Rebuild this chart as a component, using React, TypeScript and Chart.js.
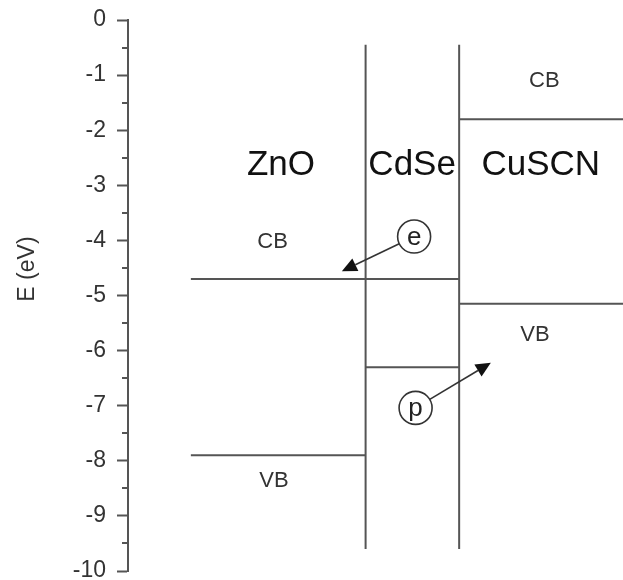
import React, { useEffect, useRef } from 'react';
import { Chart, registerables } from 'chart.js';

Chart.register(...registerables);

const FONT = '"Liberation Sans", Arial, Helvetica, sans-serif';

// Y axis
const yTickValues = [0, -1, -2, -3, -4, -5, -6, -7, -8, -9, -10];
const yMinorTicks = [-0.5, -1.5, -2.5, -3.5, -4.5, -5.5, -6.5, -7.5, -8.5, -9.5];
const axisTitle = 'E (eV)';
const axisTitleY = -4.52;

// Band edges (energy in eV, horizontal extent in arbitrary x-units 0..10)
const bandNames = ['ZnO CB', 'CdSe CB', 'ZnO VB', 'CdSe VB', 'CuSCN CB', 'CuSCN VB'];
const bandEnergy = [-4.7, -4.7, -7.9, -6.3, -1.8, -5.15];
const bandStart = [1.27, 4.8, 1.27, 4.8, 6.69, 6.69];
const bandEnd = [4.8, 6.69, 4.8, 6.69, 10, 10];

// Interfaces (vertical lines)
const interfaceX = [4.8, 6.69];
const interfaceTop = -0.45;
const interfaceBottom = -9.6;

// Material labels
const materialLabels = ['ZnO', 'CdSe', 'CuSCN'];
const materialLabelX = [3.09, 5.74, 8.34];
const materialLabelY = [-2.64, -2.64, -2.64];

// Band labels
const bandLabels = ['CB', 'VB', 'CB', 'VB'];
const bandLabelX = [2.92, 2.95, 8.41, 8.22];
const bandLabelY = [-4.03, -8.36, -1.1, -5.72];

// Charge carriers (circled) and their arrows
const carrierLabels = ['e', 'p'];
const carrierX = [5.78, 5.81];
const carrierY = [-3.93, -7.04];
const arrowTipX = [4.32, 7.33];
const arrowTipY = [-4.56, -6.22];

const LINE = '#555555';

const diagramPlugin = {
  id: 'diagram',
  afterDraw(chart: any) {
    const { ctx, chartArea } = chart;
    const xs = chart.scales.x;
    const ys = chart.scales.y;
    const px = (v: number) => xs.getPixelForValue(v);
    const py = (v: number) => ys.getPixelForValue(v);
    ctx.save();

    // minor ticks
    ctx.strokeStyle = LINE;
    ctx.lineWidth = 2;
    const axisX = chartArea.left;
    yMinorTicks.forEach((v) => {
      const y = Math.round(py(v));
      ctx.beginPath();
      ctx.moveTo(axisX - 6, y);
      ctx.lineTo(axisX, y);
      ctx.stroke();
    });

    // axis title
    ctx.save();
    ctx.translate(ys.left + 28, py(axisTitleY));
    ctx.rotate(-Math.PI / 2);
    ctx.font = `23px ${FONT}`;
    ctx.fillStyle = '#333';
    ctx.textAlign = 'center';
    ctx.textBaseline = 'middle';
    ctx.fillText(axisTitle, 0, 0);
    ctx.restore();

    // material labels
    ctx.font = `35px ${FONT}`;
    ctx.fillStyle = '#111';
    ctx.textAlign = 'center';
    ctx.textBaseline = 'middle';
    materialLabels.forEach((t, i) => {
      ctx.fillText(t, px(materialLabelX[i]), py(materialLabelY[i]));
    });

    // band labels
    ctx.font = `22px ${FONT}`;
    ctx.fillStyle = '#333';
    bandLabels.forEach((t, i) => {
      ctx.fillText(t, px(bandLabelX[i]), py(bandLabelY[i]));
    });

    // carriers + arrows
    const r = 16.5;
    carrierLabels.forEach((t, i) => {
      const cx = px(carrierX[i]);
      const cy = py(carrierY[i]);
      const tx = px(arrowTipX[i]);
      const ty = py(arrowTipY[i]);
      const dx = tx - cx;
      const dy = ty - cy;
      const len = Math.sqrt(dx * dx + dy * dy);
      const ux = dx / len;
      const uy = dy / len;
      const headLen = 15;
      const headHalf = 7;
      const sx = cx + ux * r;
      const sy = cy + uy * r;
      const bx = tx - ux * headLen;
      const by = ty - uy * headLen;
      ctx.strokeStyle = '#333';
      ctx.lineWidth = 1.6;
      ctx.beginPath();
      ctx.moveTo(sx, sy);
      ctx.lineTo(bx, by);
      ctx.stroke();
      ctx.fillStyle = '#111';
      ctx.beginPath();
      ctx.moveTo(tx, ty);
      ctx.lineTo(bx - uy * headHalf, by + ux * headHalf);
      ctx.lineTo(bx + uy * headHalf, by - ux * headHalf);
      ctx.closePath();
      ctx.fill();

      ctx.beginPath();
      ctx.arc(cx, cy, r, 0, Math.PI * 2);
      ctx.fillStyle = '#fff';
      ctx.fill();
      ctx.strokeStyle = '#333';
      ctx.lineWidth = 1.6;
      ctx.stroke();
      ctx.fillStyle = '#222';
      ctx.font = `26px ${FONT}`;
      ctx.textAlign = 'center';
      ctx.textBaseline = 'middle';
      ctx.fillText(t, cx, cy + 1);
    });

    ctx.restore();
  },
};

export default function App() {
  const canvasRef = useRef<HTMLCanvasElement | null>(null);

  useEffect(() => {
    document.body.style.margin = '0';
    const canvas = canvasRef.current;
    if (!canvas) return;

    const datasets: any[] = [];
    bandNames.forEach((name, i) => {
      datasets.push({
        label: name,
        data: [
          { x: bandStart[i], y: bandEnergy[i] },
          { x: bandEnd[i], y: bandEnergy[i] },
        ],
        borderColor: LINE,
        borderWidth: 2,
        pointRadius: 0,
        fill: false,
      });
    });
    interfaceX.forEach((x, i) => {
      datasets.push({
        label: `interface ${i + 1}`,
        data: [
          { x, y: interfaceTop },
          { x, y: interfaceBottom },
        ],
        borderColor: LINE,
        borderWidth: 2,
        pointRadius: 0,
        fill: false,
      });
    });

    const chart = new Chart(canvas, {
      type: 'line',
      data: { datasets },
      options: {
        animation: false,
        responsive: false,
        devicePixelRatio: 1,
        layout: { padding: { top: 20, bottom: 9, left: 0, right: 0 } },
        plugins: {
          legend: { display: false },
          tooltip: { enabled: false },
        },
        scales: {
          x: { type: 'linear', min: 0, max: 10, display: false },
          y: {
            type: 'linear',
            position: 'left',
            min: -10,
            max: 0,
            afterFit: (s: any) => {
              s.width = 128;
              s.paddingTop = 0;
              s.paddingBottom = 0;
            },
            afterBuildTicks: (s: any) => {
              s.ticks = yTickValues.map((value) => ({ value }));
            },
            ticks: {
              autoSkip: false,
              color: '#333',
              padding: 11,
              font: { family: FONT, size: 23, lineHeight: 0.8 },
              callback: (v: any) => String(v),
            },
            grid: {
              drawOnChartArea: false,
              drawTicks: true,
              tickLength: 11,
              tickColor: LINE,
              tickWidth: 2,
            },
            border: { display: true, color: LINE, width: 2 },
          },
        },
      },
      plugins: [diagramPlugin],
    });

    return () => {
      chart.destroy();
    };
  }, []);

  return (
    <div style={{ position: 'fixed', left: 0, top: 0, width: 623, height: 580, background: '#fff' }}>
      <canvas ref={canvasRef} width={623} height={580} style={{ display: 'block' }} />
    </div>
  );
}
